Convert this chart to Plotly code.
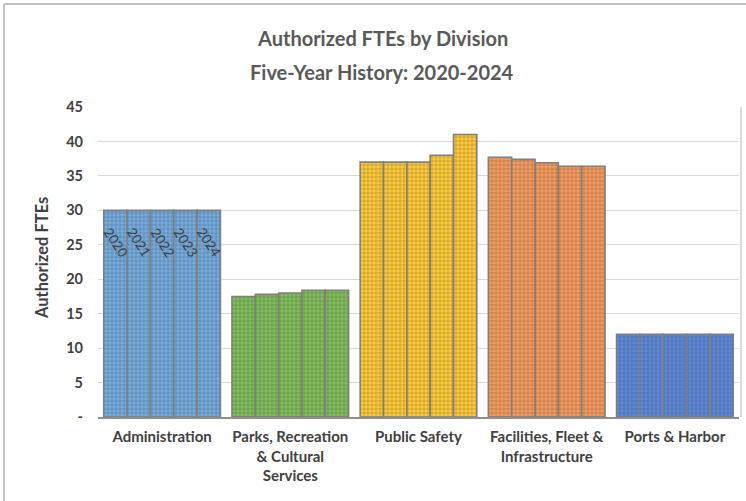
import plotly.graph_objects as go

# Divisions and authorized FTE counts by fiscal year
divisions = [
    "Administration",
    "Parks, Recreation<br>& Cultural<br>Services",
    "Public Safety",
    "Facilities, Fleet &<br>Infrastructure",
    "Ports & Harbor",
]
years = ["2020", "2021", "2022", "2023", "2024"]
fte_2020 = [30, 17.5, 37, 37.7, 12]
fte_2021 = [30, 17.8, 37, 37.4, 12]
fte_2022 = [30, 18.0, 37, 36.9, 12]
fte_2023 = [30, 18.4, 38, 36.4, 12]
fte_2024 = [30, 18.4, 41, 36.4, 12]
series = [fte_2020, fte_2021, fte_2022, fte_2023, fte_2024]

division_colors = ["#72abe0", "#7fbd57", "#ffca35", "#f69b5c", "#5d88da"]

y_tick_vals = [0, 5, 10, 15, 20, 25, 30, 35, 40, 45]
y_tick_text = ["-", "5", "10", "15", "20", "25", "30", "35", "40", "45"]

W, H = 746, 501
ML, MR, MT, MB = 98, 7, 107, 84
PW, PH = W - ML - MR, H - MT - MB
BARGAP = 0.09


def px_x(px):
    return (px - ML) / PW


def px_y(py):
    return (H - MB - py) / PH


fig = go.Figure()
for yr, vals in zip(years, series):
    fig.add_trace(go.Bar(
        name=yr,
        x=list(range(len(divisions))),
        y=vals,
        marker=dict(
            color=division_colors,
            line=dict(color="#7f7f7f", width=1.6),
            pattern=dict(shape="+", size=4, solidity=0.25,
                         fgcolor="rgba(255,255,255,0.45)"),
        ),
        hoverinfo="name+y",
    ))

# Year labels written down the Administration bars
n = len(years)
group_w = 1 - BARGAP
annotations = []
for i, (yr, vals) in enumerate(zip(years, series)):
    xc = -group_w / 2 + (i + 0.5) * group_w / n
    annotations.append(dict(
        x=xc, y=vals[0], xref="x", yref="y", text=yr, showarrow=False,
        textangle=57, yanchor="middle", xanchor="center", yshift=-32,
        font=dict(family="Lato", size=13.5, color="#404040"),
    ))

# Two-line chart title
annotations.append(dict(
    x=px_x(382), y=px_y(38), xref="paper", yref="paper",
    text="<b>Authorized FTEs by Division</b>", showarrow=False,
    xanchor="center", yanchor="middle",
    font=dict(family="Lato", size=20, color="#595959"),
))
annotations.append(dict(
    x=px_x(382), y=px_y(72), xref="paper", yref="paper",
    text="<b>Five-Year History: 2020-2024</b>", showarrow=False,
    xanchor="center", yanchor="middle",
    font=dict(family="Lato", size=20, color="#595959"),
))
# Y-axis title
annotations.append(dict(
    x=px_x(42), y=px_y(258), xref="paper", yref="paper",
    text="<b>Authorized FTEs</b>", showarrow=False, textangle=-90,
    xanchor="center", yanchor="middle",
    font=dict(family="Lato", size=16.5, color="#404040"),
))

shapes = [
    # outer frame (top and left edges)
    dict(type="line", xref="paper", yref="paper",
         x0=px_x(4), x1=px_x(W), y0=px_y(4), y1=px_y(4),
         line=dict(color="#c4c4c4", width=2)),
    dict(type="line", xref="paper", yref="paper",
         x0=px_x(4), x1=px_x(4), y0=px_y(4), y1=px_y(H),
         line=dict(color="#c4c4c4", width=2)),
    # right edge of plot area
    dict(type="line", xref="paper", yref="paper",
         x0=px_x(741), x1=px_x(741), y0=0, y1=1,
         line=dict(color="#d0d0d0", width=1.5)),
]

fig.update_layout(
    width=W, height=H,
    margin=dict(l=ML, r=MR, t=MT, b=MB, pad=0),
    paper_bgcolor="white", plot_bgcolor="white",
    barmode="group", bargap=BARGAP, bargroupgap=0,
    showlegend=False,
    annotations=annotations,
    shapes=shapes,
    xaxis=dict(
        tickmode="array",
        tickvals=list(range(len(divisions))),
        ticktext=[f"<b>{d}</b>" for d in divisions],
        range=[-0.5, len(divisions) - 0.5],
        tickfont=dict(family="Lato", size=15, color="#404040"),
        showline=True, linecolor="#8f8f8f", linewidth=2,
        showgrid=False, ticks="", ticklabelstandoff=5,
    ),
    yaxis=dict(
        range=[0, 45],
        tickmode="array", tickvals=y_tick_vals,
        ticktext=[f"<b>{t}</b>" for t in y_tick_text],
        tickfont=dict(family="Lato", size=14.5, color="#404040"),
        showgrid=True, gridcolor="#d9d9d9", gridwidth=1,
        zeroline=False, showline=False, ticks="",
        ticklabelstandoff=14,
    ),
)

fig.write_html("out.html")
